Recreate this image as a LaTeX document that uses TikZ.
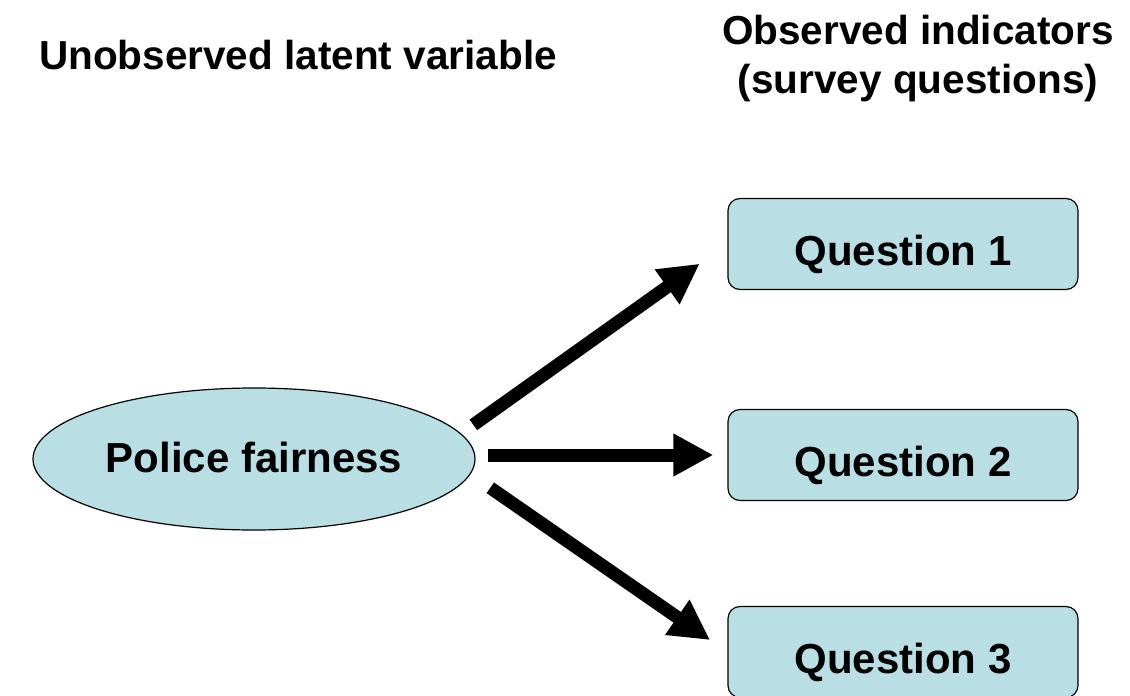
\documentclass[tikz,border=0pt]{standalone}
\usepackage{fontspec}
\setmainfont{Liberation Sans}
\usetikzlibrary{arrows.meta,shapes.geometric,calc}
\definecolor{boxfill}{RGB}{185,223,228}
\begin{document}
\begin{tikzpicture}[x=1pt,y=-1pt,
  title/.style={font=\bfseries\fontsize{40.5}{49}\selectfont,inner sep=0pt},
  qbox/.style={draw=black,line width=1.2pt,fill=boxfill,rounded corners=12pt,
    minimum width=350pt,minimum height=91pt,inner sep=0pt,
    text height=42pt,text depth=0pt,
    font=\bfseries\fontsize{42}{48}\selectfont},
  latent/.style={draw=black,line width=1.2pt,fill=boxfill,ellipse,
    minimum width=442pt,minimum height=142pt,inner sep=0pt,
    text height=26pt,text depth=0pt,
    font=\bfseries\fontsize{42}{48}\selectfont},
  arr/.style={line width=13pt,-{Triangle[length=40pt,width=40pt]}}]
\useasboundingbox (0,0) rectangle (1130,696);
\node[title,anchor=base] (t1) at (298,69) {Unobserved latent variable};
\node[title,align=center,anchor=base] (t2) at (918,93) {Observed indicators\\(survey questions)};
\node[latent] (e) at (254,459) {Police fairness};
\node[qbox] (q1) at (903,244) {Question 1};
\node[qbox] (q2) at (903,455) {Question 2};
\node[qbox] (q3) at (903,652) {Question 3};
\draw[arr,shorten <=15pt,shorten >=34pt] (e.7) -- (q1.west);
\draw[arr,shorten <=12pt,shorten >=14pt] (e.east |- q2.west) -- (q2.west);
\draw[arr,shorten <=24pt,shorten >=21pt] (e.-4) -- (q3.west);
\end{tikzpicture}
\end{document}
